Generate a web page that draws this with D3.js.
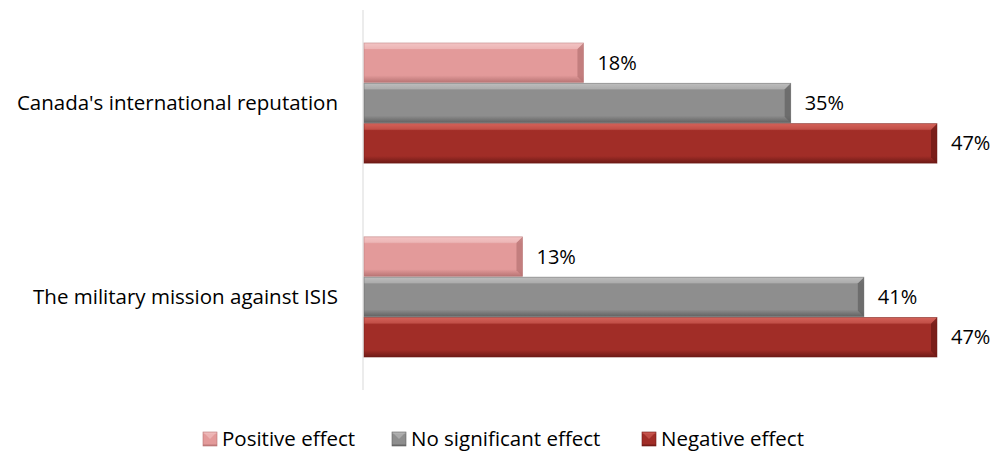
<!DOCTYPE html>
<html>
<head>
<meta charset="utf-8">
<script src="https://cdn.jsdelivr.net/npm/d3@7/dist/d3.min.js"></script>
<style>
  html, body { margin: 0; padding: 0; background: #fff; }
  svg { display: block; font-family: "Open Sans", Lato, sans-serif; }
</style>
</head>
<body>
<svg id="chart" width="995" height="453"></svg>
<script>
// Survey categories (top to bottom) and series values in percent
const categories = ["Canada's international reputation", "The military mission against ISIS"];
const seriesNames = ["Positive effect", "No significant effect", "Negative effect"];
const positive = [18, 13];
const noEffect = [35, 41];
const negative = [47, 47];

const seriesValues = [positive, noEffect, negative];
const fills = ["#E39A9A", "#8E8E8E", "#A12D27"];
const lights = ["#F2C4C4", "#BDBDBD", "#D4625A"];
const darks = ["#B87474", "#616161", "#6E1A16"];

const svg = d3.select("#chart");
const plot = { left: 363, top: 10, right: 937, bottom: 390 };

const x = d3.scaleLinear().domain([0, 47]).range([plot.left + 1, plot.right]);
const y = d3.scaleBand().domain(categories).range([plot.top, plot.bottom]).paddingInner(0.38).paddingOuter(0.17);
const ySub = d3.scaleBand().domain(seriesNames).range([0, y.bandwidth()]).paddingInner(0.02);

const defs = svg.append("defs");
fills.forEach((c, i) => {
  const g = defs.append("linearGradient").attr("id", "g" + i).attr("x1", 0).attr("x2", 0).attr("y1", 0).attr("y2", 1);
  g.append("stop").attr("offset", 0).attr("stop-color", lights[i]);
  g.append("stop").attr("offset", 0.18).attr("stop-color", fills[i]);
  g.append("stop").attr("offset", 0.82).attr("stop-color", fills[i]);
  g.append("stop").attr("offset", 1).attr("stop-color", darks[i]);
});

// vertical category axis line
svg.append("line")
  .attr("x1", plot.left).attr("x2", plot.left)
  .attr("y1", plot.top).attr("y2", plot.bottom)
  .attr("stroke", "#D9D9D9").attr("stroke-width", 1);

const bev = 6;
categories.forEach((cat, ci) => {
  seriesNames.forEach((s, si) => {
    const v = seriesValues[si][ci];
    const x0 = x(0), x1 = x(v);
    const y0 = y(cat) + ySub(s), h = ySub.bandwidth();
    const g = svg.append("g");
    g.append("rect").attr("x", x0).attr("y", y0).attr("width", x1 - x0).attr("height", h)
      .attr("fill", `url(#g${si})`);
    // bevelled right end
    g.append("path")
      .attr("d", `M${x1 - bev},${y0 + bev} L${x1},${y0} L${x1},${y0 + h} L${x1 - bev},${y0 + h - bev} Z`)
      .attr("fill", darks[si]).attr("opacity", 0.75);
    // top highlight bevel
    g.append("path")
      .attr("d", `M${x0},${y0} L${x1},${y0} L${x1 - bev},${y0 + bev} L${x0},${y0 + bev} Z`)
      .attr("fill", lights[si]).attr("opacity", 0.55);
    g.append("rect").attr("x", x0).attr("y", y0).attr("width", x1 - x0).attr("height", h)
      .attr("fill", "none").attr("stroke", darks[si]).attr("stroke-width", 0.8).attr("stroke-opacity", 0.6);
    // value label
    svg.append("text")
      .attr("x", x1 + 14).attr("y", y0 + h / 2)
      .attr("dy", "0.35em").attr("font-size", 20).attr("fill", "#000")
      .text(v + "%");
  });
  svg.append("text")
    .attr("x", 338).attr("y", y(cat) + y.bandwidth() / 2)
    .attr("dy", "0.35em").attr("text-anchor", "end").attr("font-size", 20.5).attr("fill", "#000")
    .text(cat);
});

// legend
const legendItems = [
  { name: seriesNames[0], x: 203 },
  { name: seriesNames[1], x: 392 },
  { name: seriesNames[2], x: 642 }
];
legendItems.forEach((it, i) => {
  const g = svg.append("g").attr("transform", `translate(${it.x},${432})`);
  g.append("rect").attr("width", 14).attr("height", 14).attr("fill", `url(#g${i})`)
    .attr("stroke", darks[i]).attr("stroke-width", 0.6);
  g.append("path").attr("d", "M1,1 L13,1 L7,7 Z").attr("fill", lights[i]).attr("opacity", 0.6);
  g.append("text").attr("x", 19).attr("y", 7).attr("dy", "0.35em").attr("font-size", 20.5).text(it.name);
});
</script>
</body>
</html>
